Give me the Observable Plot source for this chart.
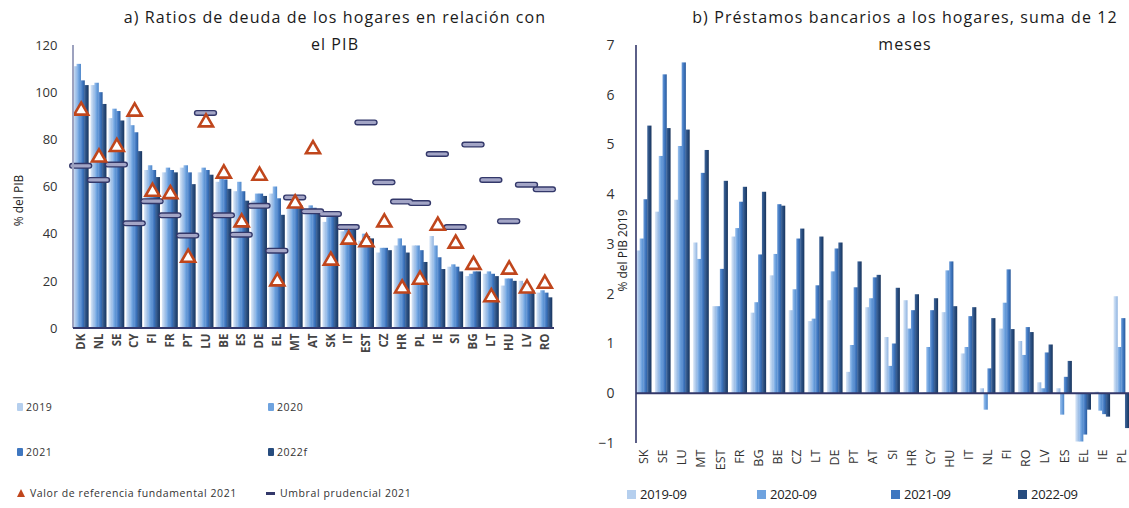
<!DOCTYPE html>
<html><head><meta charset="utf-8">
<script src="https://cdn.jsdelivr.net/npm/d3@7"></script>
<script src="https://cdn.jsdelivr.net/npm/@observablehq/plot@0.6"></script>
<style>
body{margin:0;background:#fff;font-family:"Open Sans",sans-serif;color:#222;}
#wrap{position:relative;width:1129px;height:508px;overflow:hidden;background:#fff;}
.abs{position:absolute;}
.title{font-size:16px;text-align:center;line-height:27px;white-space:nowrap;letter-spacing:1.1px;color:#1a1a1a;}
.ylab{font-size:12px;white-space:nowrap;transform:rotate(-90deg);transform-origin:center;color:#222;}
.legA{font-size:10.5px;letter-spacing:0.6px;white-space:nowrap;color:#333;display:flex;align-items:center;}
.legB{font-size:13px;white-space:nowrap;color:#222;display:flex;align-items:center;letter-spacing:-0.3px;}
.sw{display:inline-block;width:6px;height:8px;margin-right:3px;border-radius:1px;}
.swb{display:inline-block;width:9px;height:9px;margin-right:4px;}
</style></head><body>
<svg width="0" height="0" style="position:absolute">
<defs>
<linearGradient id="g19" x1="0" x2="1" y1="0" y2="0"><stop offset="0" stop-color="#dce8f7"/><stop offset="0.5" stop-color="#b5cfee"/><stop offset="1" stop-color="#8fb2de"/></linearGradient>
<linearGradient id="g20" x1="0" x2="1" y1="0" y2="0"><stop offset="0" stop-color="#9fc3ee"/><stop offset="0.5" stop-color="#6fa3df"/><stop offset="1" stop-color="#4d85c8"/></linearGradient>
<linearGradient id="g21" x1="0" x2="1" y1="0" y2="0"><stop offset="0" stop-color="#6d9cd8"/><stop offset="0.5" stop-color="#3f77c0"/><stop offset="1" stop-color="#2b5a9a"/></linearGradient>
<linearGradient id="g22" x1="0" x2="1" y1="0" y2="0"><stop offset="0" stop-color="#44699c"/><stop offset="0.5" stop-color="#274c7e"/><stop offset="1" stop-color="#1a355c"/></linearGradient>
</defs></svg>
<div id="wrap">
  <div class="abs title" style="left:95px;top:4px;width:480px;">a) Ratios de deuda de los hogares en relación con<br>el PIB</div>
  <div class="abs title" style="left:665px;top:4px;width:480px;">b) Préstamos bancarios a los hogares, suma de 12<br>meses</div>
  <div class="abs ylab" style="left:-22px;top:192px;width:80px;text-align:center;">% del PIB</div>
  <div class="abs ylab" style="left:572px;top:242px;width:100px;text-align:center;">% del PIB 2019</div>
  <div id="chartA" class="abs" style="left:0;top:0;"></div>
  <div id="chartB" class="abs" style="left:580px;top:0;"></div>
  <div id="legendA"></div>
  <div id="legendB"></div>
</div>
<script>
// ---------- Panel a data ----------
const countriesA = ["DK","NL","SE","CY","FI","FR","PT","LU","BE","ES","DE","EL","MT","AT","SK","IT","EST","CZ","HR","PL","IE","SI","BG","LT","HU","LV","RO"];
const yearsA = ["2019","2020","2021","2022f"];
const debt2019 = [111,103,89,90,67,66,68,66,62,58,54,57,51,50,45,41,37,32,35,35,39,26,22,23,18,20,15];
const debt2020 = [112,104,93,86,69,68,69,68,64,62,57,60,53,52,47,44,40,34,38,35,35,27,23,24,21,19,16];
const debt2021 = [105,100,92,83,67,67,66,67,63,58,57,55,52,51,48,43,39,34,35,33,30,26,24,23,21,17,15];
const debt2022 = [103,95,88,75,64,66,61,65,59,54,56,48,52,50,49,42,38,33,32,28,25,24,24,22,20,16,13];
const refValue2021 = [92.4,72.5,77,92,58,57,30,87.4,65.7,45,64.8,20,53,76,28.8,37.7,36.6,45,17,20.7,43.6,36,27,13.3,25,17,19];
const threshold2021 = [69,63,69.5,44.6,54,48,39.4,91.4,48,39.8,52,33,55.6,49.7,48.6,43,87.4,62,53.8,53.2,74,43,78,63,45.5,61,59];
const ticksA = [0,20,40,60,80,100,120];

// ---------- Panel b data ----------
const countriesB = ["SK","SE","LU","MT","EST","FR","BG","BE","CZ","LT","DE","PT","AT","SI","HR","CY","HU","IT","NL","FI","RO","LV","ES","EL","IE","PL"];
const periodsB = ["2019-09","2020-09","2021-09","2022-09"];
const loans2019 = [2.87,3.65,3.89,3.03,1.75,3.15,1.62,2.37,1.67,1.45,1.87,0.43,1.73,1.13,1.87,0.02,1.63,0.8,0.1,1.3,1.05,0.22,0.1,-0.97,0.03,1.95];
const loans2020 = [3.11,4.77,4.97,2.7,1.75,3.32,1.83,2.8,2.09,1.5,2.45,0.97,1.91,0.55,1.3,0.93,2.47,0.93,-0.33,1.82,0.77,0.1,-0.43,-0.97,-0.35,0.93];
const loans2021 = [3.9,6.41,6.65,4.43,2.5,3.85,2.79,3.8,3.11,2.17,2.91,2.13,2.33,1.0,1.67,1.67,2.65,1.55,0.5,2.49,1.33,0.82,0.33,-0.83,-0.42,1.51];
const loans2022 = [5.38,5.33,5.3,4.89,4.27,4.15,4.05,3.77,3.31,3.15,3.03,2.65,2.38,2.12,1.99,1.91,1.75,1.73,1.51,1.29,1.23,0.98,0.65,-0.33,-0.47,-0.7];
const ticksB = [-1,0,1,2,3,4,5,6,7];

// ---------- styles ----------
const grads = ["url(#g19)","url(#g20)","url(#g21)","url(#g22)"];
const flat = ["#b5cfee","#6fa3df","#3f77c0","#274c7e"];
const triColor = "#c0461c";
const navy = "#33386a";

// ---------- Panel a ----------
const seriesA = [debt2019,debt2020,debt2021,debt2022];
const barsA = countriesA.flatMap((c,i)=>yearsA.map((y,j)=>({country:c, year:y, value:seriesA[j][i]})));
const refA = countriesA.map((c,i)=>({country:c, value:refValue2021[i]}));
const thrA = countriesA.map((c,i)=>({country:c, value:threshold2021[i]}));

const WA=570, HA=385, mlA=73, mrA=18, mtA=45, mbA=57;
const plotA = Plot.plot({
  width:WA, height:HA, marginLeft:mlA, marginRight:mrA, marginTop:mtA, marginBottom:mbA,
  style:{fontFamily:"Open Sans, sans-serif", background:"transparent", color:"#333"},
  fx:{domain:countriesA, padding:0.14, round:false, label:null},
  x:{domain:yearsA, padding:0, round:false, axis:null},
  y:{domain:[0,120]},
  color:{type:"ordinal", domain:yearsA, range:grads},
  marks:[
    Plot.barY(barsA,{fx:"country", x:"year", y:"value", fill:"year", insetLeft:-0.3, insetRight:-0.3}),
    Plot.tickY(thrA,{fx:"country", y:"value", stroke:navy, strokeWidth:6, strokeLinecap:"round", insetLeft:-1, insetRight:-1}),
    Plot.tickY(thrA,{fx:"country", y:"value", stroke:"#a3a5c6", strokeWidth:3.2, strokeLinecap:"round", insetLeft:-1, insetRight:-1}),
    Plot.dot(refA,{fx:"country", y:"value", symbol:"triangle", r:5.2, stroke:triColor, strokeWidth:2.6, fill:"white"}),
    Plot.axisY({ticks:ticksA, tickSize:0, tickPadding:16, fontSize:13, label:null}),
    Plot.axisFx({anchor:"bottom", tickRotate:-90, tickSize:0, tickPadding:5, fontSize:11.5, fontWeight:"bold", label:null})
  ]
});
{
  const sy = plotA.scale("y");
  const svg = d3.select(plotA);
  svg.append("line").attr("x1",mlA).attr("x2",mlA).attr("y1",sy.apply(0)).attr("y2",sy.apply(120)).attr("stroke","#9da2bf").attr("stroke-width",2);
  svg.append("line").attr("x1",mlA).attr("x2",WA-mrA+2).attr("y1",sy.apply(0)).attr("y2",sy.apply(0)).attr("stroke",navy).attr("stroke-width",2);
  svg.select('g[aria-label="fx-axis tick label"]').attr("fill","#444");
}
document.getElementById("chartA").appendChild(plotA);

// ---------- Panel b ----------
const seriesB = [loans2019,loans2020,loans2021,loans2022];
const barsB = countriesB.flatMap((c,i)=>periodsB.map((p,j)=>({country:c, period:p, value:seriesB[j][i]})));
const WB=549, HB=485, mlB=56, mrB=0, mtB=45, mbB=42;
const plotB = Plot.plot({
  width:WB, height:HB, marginLeft:mlB, marginRight:mrB, marginTop:mtB, marginBottom:mbB,
  style:{fontFamily:"Open Sans, sans-serif", background:"transparent", color:"#333"},
  fx:{domain:countriesB, padding:0.2, round:false, label:null},
  x:{domain:periodsB, padding:0, round:false, axis:null},
  y:{domain:[-1,7]},
  color:{type:"ordinal", domain:periodsB, range:grads},
  marks:[
    Plot.barY(barsB,{fx:"country", x:"period", y:"value", fill:"period", insetLeft:-0.2, insetRight:-0.2}),
    Plot.axisY({ticks:ticksB, tickSize:0, tickPadding:22, fontSize:14, label:null}),
    Plot.axisFx({anchor:"bottom", tickRotate:-90, tickSize:0, tickPadding:6, fontSize:12.5, label:null})
  ]
});
{
  const sy = plotB.scale("y");
  const svg = d3.select(plotB);
  svg.append("line").attr("x1",mlB).attr("x2",mlB).attr("y1",sy.apply(-1)).attr("y2",sy.apply(7)).attr("stroke",navy).attr("stroke-width",1.6);
  svg.append("line").attr("x1",mlB).attr("x2",WB-mrB).attr("y1",sy.apply(0)).attr("y2",sy.apply(0)).attr("stroke",navy).attr("stroke-width",2);
}
document.getElementById("chartB").appendChild(plotB);

// ---------- Legends ----------
const legA = document.getElementById("legendA");
const posA = [[17,400],[268,400],[17,445],[268,445]];
yearsA.forEach((y,j)=>{
  const d=document.createElement("div"); d.className="abs legA";
  d.style.left=posA[j][0]+"px"; d.style.top=posA[j][1]+"px";
  d.innerHTML=`<span class="sw" style="background:${flat[j]}"></span>${y}`;
  legA.appendChild(d);
});
{
  const d=document.createElement("div"); d.className="abs legA"; d.style.left="16px"; d.style.top="486px";
  d.innerHTML=`<svg width="10" height="10" style="margin-right:4px"><path d="M5 1 L9 9 L1 9 Z" fill="${triColor}"/></svg>Valor de referencia fundamental 2021`;
  legA.appendChild(d);
  const e=document.createElement("div"); e.className="abs legA"; e.style.left="266px"; e.style.top="486px";
  e.innerHTML=`<span style="display:inline-block;width:9px;height:3px;background:${navy};margin-right:5px"></span>Umbral prudencial 2021`;
  legA.appendChild(e);
}
const legB = document.getElementById("legendB");
const posB = [627,757,891,1018];
periodsB.forEach((p,j)=>{
  const d=document.createElement("div"); d.className="abs legB";
  d.style.left=posB[j]+"px"; d.style.top="485px";
  d.innerHTML=`<span class="swb" style="background:${flat[j]}"></span>${p}`;
  legB.appendChild(d);
});
</script>
</body></html>
